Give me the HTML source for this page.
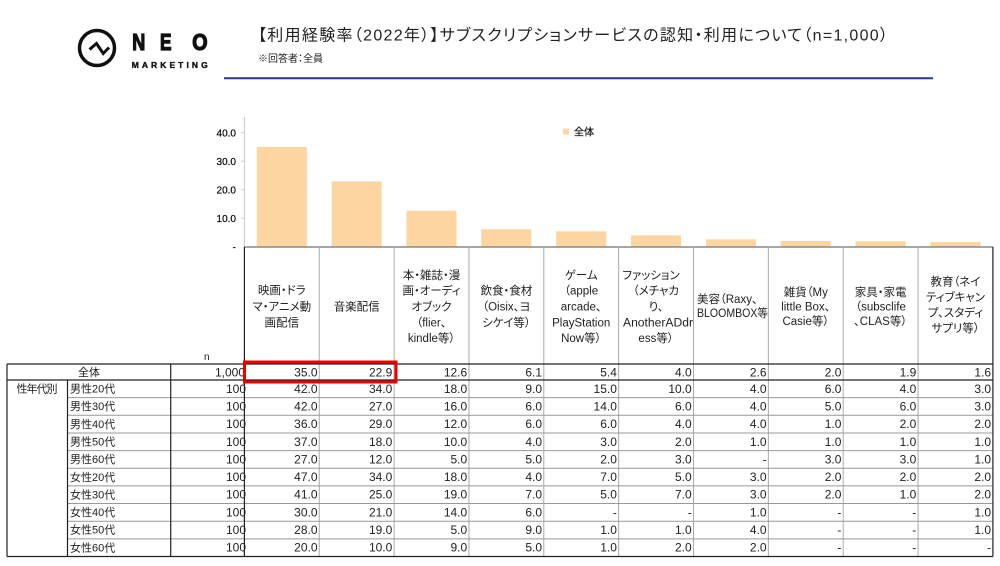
<!DOCTYPE html>
<html>
<head>
<meta charset="utf-8">
<style>
html,body{margin:0;padding:0;background:#fff;}
svg{display:block;}
text{font-family:"Liberation Sans","Noto Sans CJK JP",sans-serif;}
.jp{font-feature-settings:"palt";}
.num{font-size:12px;fill:#222;text-anchor:end;}
.hd{font-size:11.5px;fill:#222;text-anchor:middle;font-feature-settings:"palt";}
.lbl{font-size:11px;fill:#222;font-feature-settings:"palt";}
.ax{font-size:10px;fill:#111;text-anchor:end;stroke:#111;stroke-width:0.25;}
</style>
</head>
<body>
<svg width="1000" height="566" viewBox="0 0 1000 566" xmlns="http://www.w3.org/2000/svg">
<rect width="1000" height="566" fill="#fff"/>

<!-- Logo -->
<circle cx="97" cy="48" r="17.5" fill="none" stroke="#111" stroke-width="3.5"/>
<polyline points="89.5,49.5 96.5,43.5 103.2,53.5 109,47.5" fill="none" stroke="#111" stroke-width="3" stroke-linejoin="miter"/>
<g font-size="23" font-weight="bold" fill="#111" stroke="#111" stroke-width="1.3">
<text x="132.2" y="50" textLength="13" lengthAdjust="spacingAndGlyphs">N</text>
<text x="160" y="50" textLength="11.5" lengthAdjust="spacingAndGlyphs">E</text>
<text x="192.3" y="50" textLength="15.3" lengthAdjust="spacingAndGlyphs">O</text>
</g>
<text x="131.7" y="67.8" font-size="8.5" font-weight="bold" fill="#111" stroke="#111" stroke-width="0.35" textLength="76" lengthAdjust="spacing">MARKETING</text>

<!-- Title -->
<text x="258" y="40.5" font-size="16" fill="#222" class="jp" textLength="630" lengthAdjust="spacing">【利用経験率（2022年）】サブスクリプションサービスの認知・利用について（n=1,000）</text>
<text x="258" y="62" font-size="10" fill="#222" class="jp">※回答者：全員</text>
<line x1="224" y1="78.3" x2="933" y2="78.3" stroke="#2b3a8c" stroke-width="2"/>

<!-- Chart axis -->
<line x1="244.4" y1="117" x2="244.4" y2="247" stroke="#c8c8c8" stroke-width="1"/>
<g stroke="#c8c8c8" stroke-width="1">
<line x1="241" y1="132.7" x2="244.4" y2="132.7"/>
<line x1="241" y1="161.2" x2="244.4" y2="161.2"/>
<line x1="241" y1="189.7" x2="244.4" y2="189.7"/>
<line x1="241" y1="218.2" x2="244.4" y2="218.2"/>
</g>
<text class="ax" x="236" y="136.3">40.0</text>
<text class="ax" x="236" y="164.8">30.0</text>
<text class="ax" x="236" y="193.3">20.0</text>
<text class="ax" x="236" y="221.8">10.0</text>
<text class="ax" x="236" y="250.3">-</text>

<!-- Legend -->
<rect x="563" y="128.5" width="6" height="6" fill="#fcd5a0"/>
<text x="574" y="135.5" font-size="10" fill="#111" stroke="#111" stroke-width="0.2" class="jp">全体</text>

<!-- Bars -->
<g fill="#fcd5a0">
<rect x="256.8" y="146.95" width="50" height="99.75"/>
<rect x="331.65" y="181.4" width="50" height="65.3"/>
<rect x="406.5" y="210.8" width="50" height="35.9"/>
<rect x="481.35" y="229.3" width="50" height="17.4"/>
<rect x="556.2" y="231.3" width="50" height="15.4"/>
<rect x="631.05" y="235.3" width="50" height="11.4"/>
<rect x="705.9" y="239.3" width="50" height="7.4"/>
<rect x="780.75" y="241" width="50" height="5.7"/>
<rect x="855.6" y="241.3" width="50" height="5.4"/>
<rect x="930.45" y="242.1" width="50" height="4.6"/>
</g>
<line x1="244.4" y1="247" x2="993" y2="247" stroke="#888" stroke-width="1.5"/>

<!-- Table / header lines -->
<g stroke="#aaa" stroke-width="1">
<line x1="319.25" y1="247" x2="319.25" y2="556.5"/>
<line x1="394.1" y1="247" x2="394.1" y2="556.5"/>
<line x1="468.95" y1="247" x2="468.95" y2="556.5"/>
<line x1="543.8" y1="247" x2="543.8" y2="556.5"/>
<line x1="618.65" y1="247" x2="618.65" y2="556.5"/>
<line x1="693.5" y1="247" x2="693.5" y2="556.5"/>
<line x1="768.35" y1="247" x2="768.35" y2="556.5"/>
<line x1="843.2" y1="247" x2="843.2" y2="556.5"/>
<line x1="918.05" y1="247" x2="918.05" y2="556.5"/>
</g>
<g stroke="#999" stroke-width="1">
<line x1="67.5" y1="397.65" x2="993" y2="397.65"/>
<line x1="67.5" y1="415.3" x2="993" y2="415.3"/>
<line x1="67.5" y1="432.95" x2="993" y2="432.95"/>
<line x1="67.5" y1="450.6" x2="993" y2="450.6"/>
<line x1="67.5" y1="468.25" x2="993" y2="468.25"/>
<line x1="67.5" y1="485.9" x2="993" y2="485.9"/>
<line x1="67.5" y1="503.55" x2="993" y2="503.55"/>
<line x1="67.5" y1="521.2" x2="993" y2="521.2"/>
<line x1="67.5" y1="538.85" x2="993" y2="538.85"/>
</g>
<g stroke="#222" stroke-width="1.2">
<line x1="7" y1="364" x2="993" y2="364"/>
<line x1="7" y1="380" x2="993" y2="380"/>
<line x1="7" y1="556.5" x2="993" y2="556.5"/>
<line x1="7" y1="364" x2="7" y2="556.5"/>
<line x1="67.5" y1="380" x2="67.5" y2="556.5"/>
<line x1="170.7" y1="364" x2="170.7" y2="556.5"/>
<line x1="244.4" y1="247" x2="244.4" y2="556.5"/>
<line x1="992.9" y1="247" x2="992.9" y2="556.5"/>
</g>

<!-- Header texts -->
<text class="hd" x="281.8" y="294.2">映画・ドラ</text>
<text class="hd" x="281.8" y="310.5">マ・アニメ動</text>
<text class="hd" x="281.8" y="326.3">画配信</text>

<text class="hd" x="356.7" y="310.7">音楽配信</text>

<text class="hd" x="431.5" y="278.9">本・雑誌・漫</text>
<text class="hd" x="431.5" y="294.7">画・オーディ</text>
<text class="hd" x="431.5" y="310.5">オブック</text>
<text class="hd" x="431.5" y="326.3">（flier、</text>
<text class="hd" x="431.5" y="342.1">kindle等）</text>

<text class="hd" x="506.4" y="294.7">飲食・食材</text>
<text class="hd" x="506.4" y="310.5">（Oisix、ヨ</text>
<text class="hd" x="506.4" y="326.3">シケイ等）</text>

<text class="hd" x="581.2" y="278.9">ゲーム</text>
<text class="hd" x="581.2" y="294.7">（apple</text>
<text class="hd" x="581.2" y="310.5">arcade、</text>
<text class="hd" x="581.2" y="326.3">PlayStation</text>
<text class="hd" x="581.2" y="342.1">Now等）</text>

<text class="hd" x="651" y="278.9">ファッション</text>
<text class="hd" x="656" y="294.7">（メチャカ</text>
<text class="hd" x="656" y="310.5">り、</text>
<text class="hd" x="658" y="326.3" textLength="70" lengthAdjust="spacingAndGlyphs">AnotherADdr</text>
<text class="hd" x="656" y="342.1">ess等）</text>

<text class="hd" x="697" y="303" style="text-anchor:start">美容（Raxy、</text>
<text class="hd" x="697" y="317" style="text-anchor:start" textLength="71" lengthAdjust="spacingAndGlyphs">BLOOMBOX等</text>

<text class="hd" x="805.8" y="296">雑貨（My</text>
<text class="hd" x="805.8" y="310.5">little Box、</text>
<text class="hd" x="805.8" y="325">Casie等）</text>

<text class="hd" x="880.6" y="296">家具・家電</text>
<text class="hd" x="880.6" y="310.5">（subsclife</text>
<text class="hd" x="880.6" y="325">、CLAS等）</text>

<text class="hd" x="955.5" y="285.5">教育（ネイ</text>
<text class="hd" x="955.5" y="301">ティブキャン</text>
<text class="hd" x="955.5" y="316.5">プ、スタディ</text>
<text class="hd" x="955.5" y="332">サプリ等）</text>

<text x="204" y="360" font-size="10" fill="#222">n</text>

<!-- Row labels -->
<text class="lbl" x="89" y="376" text-anchor="middle">全体</text>
<text class="lbl" x="16.5" y="392.5" textLength="41" lengthAdjust="spacing">性年代別</text>
<text class="lbl" x="70" y="392.5">男性20代</text>
<text class="lbl" x="70" y="410.15">男性30代</text>
<text class="lbl" x="70" y="427.8">男性40代</text>
<text class="lbl" x="70" y="445.45">男性50代</text>
<text class="lbl" x="70" y="463.1">男性60代</text>
<text class="lbl" x="70" y="480.75">女性20代</text>
<text class="lbl" x="70" y="498.4">女性30代</text>
<text class="lbl" x="70" y="516.05">女性40代</text>
<text class="lbl" x="70" y="533.7">女性50代</text>
<text class="lbl" x="70" y="551.35">女性60代</text>

<!-- Numbers: 全体 row -->
<g>
<text class="num" x="245" y="376.3">1,000</text>
<text class="num" x="317.5" y="376.3">35.0</text>
<text class="num" x="392.3" y="376.3">22.9</text>
<text class="num" x="467.2" y="376.3">12.6</text>
<text class="num" x="542" y="376.3">6.1</text>
<text class="num" x="616.9" y="376.3">5.4</text>
<text class="num" x="691.7" y="376.3">4.0</text>
<text class="num" x="766.6" y="376.3">2.6</text>
<text class="num" x="841.4" y="376.3">2.0</text>
<text class="num" x="916.3" y="376.3">1.9</text>
<text class="num" x="991.1" y="376.3">1.6</text>
</g>

<!-- Data rows -->
<g>
<text class="num" x="246" y="392.8">100</text><text class="num" x="317.5" y="392.8">42.0</text><text class="num" x="392.3" y="392.8">34.0</text><text class="num" x="467.2" y="392.8">18.0</text><text class="num" x="542" y="392.8">9.0</text><text class="num" x="616.9" y="392.8">15.0</text><text class="num" x="691.7" y="392.8">10.0</text><text class="num" x="766.6" y="392.8">4.0</text><text class="num" x="841.4" y="392.8">6.0</text><text class="num" x="916.3" y="392.8">4.0</text><text class="num" x="991.1" y="392.8">3.0</text>

<text class="num" x="246" y="410.45">100</text><text class="num" x="317.5" y="410.45">42.0</text><text class="num" x="392.3" y="410.45">27.0</text><text class="num" x="467.2" y="410.45">16.0</text><text class="num" x="542" y="410.45">6.0</text><text class="num" x="616.9" y="410.45">14.0</text><text class="num" x="691.7" y="410.45">6.0</text><text class="num" x="766.6" y="410.45">4.0</text><text class="num" x="841.4" y="410.45">5.0</text><text class="num" x="916.3" y="410.45">6.0</text><text class="num" x="991.1" y="410.45">3.0</text>

<text class="num" x="246" y="428.1">100</text><text class="num" x="317.5" y="428.1">36.0</text><text class="num" x="392.3" y="428.1">29.0</text><text class="num" x="467.2" y="428.1">12.0</text><text class="num" x="542" y="428.1">6.0</text><text class="num" x="616.9" y="428.1">6.0</text><text class="num" x="691.7" y="428.1">4.0</text><text class="num" x="766.6" y="428.1">4.0</text><text class="num" x="841.4" y="428.1">1.0</text><text class="num" x="916.3" y="428.1">2.0</text><text class="num" x="991.1" y="428.1">2.0</text>

<text class="num" x="246" y="445.75">100</text><text class="num" x="317.5" y="445.75">37.0</text><text class="num" x="392.3" y="445.75">18.0</text><text class="num" x="467.2" y="445.75">10.0</text><text class="num" x="542" y="445.75">4.0</text><text class="num" x="616.9" y="445.75">3.0</text><text class="num" x="691.7" y="445.75">2.0</text><text class="num" x="766.6" y="445.75">1.0</text><text class="num" x="841.4" y="445.75">1.0</text><text class="num" x="916.3" y="445.75">1.0</text><text class="num" x="991.1" y="445.75">1.0</text>

<text class="num" x="246" y="463.4">100</text><text class="num" x="317.5" y="463.4">27.0</text><text class="num" x="392.3" y="463.4">12.0</text><text class="num" x="467.2" y="463.4">5.0</text><text class="num" x="542" y="463.4">5.0</text><text class="num" x="616.9" y="463.4">2.0</text><text class="num" x="691.7" y="463.4">3.0</text><text class="num" x="766.6" y="463.4">-</text><text class="num" x="841.4" y="463.4">3.0</text><text class="num" x="916.3" y="463.4">3.0</text><text class="num" x="991.1" y="463.4">1.0</text>

<text class="num" x="246" y="481.05">100</text><text class="num" x="317.5" y="481.05">47.0</text><text class="num" x="392.3" y="481.05">34.0</text><text class="num" x="467.2" y="481.05">18.0</text><text class="num" x="542" y="481.05">4.0</text><text class="num" x="616.9" y="481.05">7.0</text><text class="num" x="691.7" y="481.05">5.0</text><text class="num" x="766.6" y="481.05">3.0</text><text class="num" x="841.4" y="481.05">2.0</text><text class="num" x="916.3" y="481.05">2.0</text><text class="num" x="991.1" y="481.05">2.0</text>

<text class="num" x="246" y="498.7">100</text><text class="num" x="317.5" y="498.7">41.0</text><text class="num" x="392.3" y="498.7">25.0</text><text class="num" x="467.2" y="498.7">19.0</text><text class="num" x="542" y="498.7">7.0</text><text class="num" x="616.9" y="498.7">5.0</text><text class="num" x="691.7" y="498.7">7.0</text><text class="num" x="766.6" y="498.7">3.0</text><text class="num" x="841.4" y="498.7">2.0</text><text class="num" x="916.3" y="498.7">1.0</text><text class="num" x="991.1" y="498.7">2.0</text>

<text class="num" x="246" y="516.35">100</text><text class="num" x="317.5" y="516.35">30.0</text><text class="num" x="392.3" y="516.35">21.0</text><text class="num" x="467.2" y="516.35">14.0</text><text class="num" x="542" y="516.35">6.0</text><text class="num" x="616.9" y="516.35">-</text><text class="num" x="691.7" y="516.35">-</text><text class="num" x="766.6" y="516.35">1.0</text><text class="num" x="841.4" y="516.35">-</text><text class="num" x="916.3" y="516.35">-</text><text class="num" x="991.1" y="516.35">1.0</text>

<text class="num" x="246" y="534">100</text><text class="num" x="317.5" y="534">28.0</text><text class="num" x="392.3" y="534">19.0</text><text class="num" x="467.2" y="534">5.0</text><text class="num" x="542" y="534">9.0</text><text class="num" x="616.9" y="534">1.0</text><text class="num" x="691.7" y="534">1.0</text><text class="num" x="766.6" y="534">4.0</text><text class="num" x="841.4" y="534">-</text><text class="num" x="916.3" y="534">-</text><text class="num" x="991.1" y="534">1.0</text>

<text class="num" x="246" y="551.65">100</text><text class="num" x="317.5" y="551.65">20.0</text><text class="num" x="392.3" y="551.65">10.0</text><text class="num" x="467.2" y="551.65">9.0</text><text class="num" x="542" y="551.65">5.0</text><text class="num" x="616.9" y="551.65">1.0</text><text class="num" x="691.7" y="551.65">2.0</text><text class="num" x="766.6" y="551.65">2.0</text><text class="num" x="841.4" y="551.65">-</text><text class="num" x="916.3" y="551.65">-</text><text class="num" x="991.1" y="551.65">-</text>
</g>

<!-- Red highlight -->
<rect x="244.5" y="362" width="151.5" height="20" fill="none" stroke="#ee0000" stroke-width="3"/>
</svg>
</body>
</html>
